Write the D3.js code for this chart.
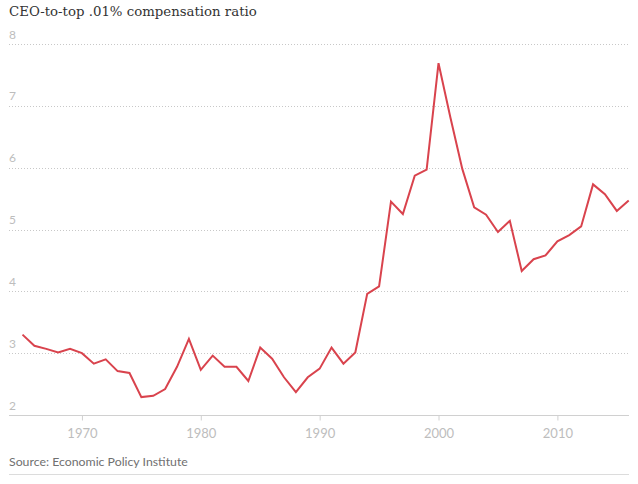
<!DOCTYPE html>
<html>
<head>
<meta charset="utf-8">
<script src="https://cdn.jsdelivr.net/npm/d3@7"></script>
<style>
  html, body { margin: 0; padding: 0; background: #fff; }
  svg { display: block; }
</style>
</head>
<body>
<svg id="chart" width="638" height="484"></svg>
<script>
const title = "CEO-to-top .01% compensation ratio";
const source = "Source: Economic Policy Institute";
const years = [1965,1966,1967,1968,1969,1970,1971,1972,1973,1974,1975,1976,1977,1978,1979,1980,1981,1982,1983,1984,1985,1986,1987,1988,1989,1990,1991,1992,1993,1994,1995,1996,1997,1998,1999,2000,2001,2002,2003,2004,2005,2006,2007,2008,2009,2010,2011,2012,2013,2014,2015,2016];
const ratio = [3.30,3.12,3.07,3.01,3.07,3.00,2.83,2.90,2.71,2.68,2.29,2.31,2.42,2.78,3.23,2.73,2.96,2.78,2.78,2.55,3.09,2.91,2.61,2.37,2.61,2.75,3.09,2.83,3.01,3.96,4.08,5.45,5.25,5.87,5.97,7.69,6.81,5.98,5.36,5.24,4.96,5.14,4.33,4.52,4.58,4.81,4.91,5.05,5.73,5.57,5.30,5.47];
const yTicks = [2,3,4,5,6,7,8];
const xTicks = [1970,1980,1990,2000,2010];

const svg = d3.select("#chart");
const left = 9, right = 629;
const x = d3.scaleLinear().domain([1965, 2016]).range([22.5, 628.7]);
const y = d3.scaleLinear().domain([2, 8]).range([415, 44]);

const sans = "Lato, 'Open Sans', sans-serif";

svg.append("text")
  .attr("x", 9).attr("y", 16)
  .attr("font-family", "'DejaVu Serif', 'Liberation Serif', serif")
  .attr("font-size", 13.3)
  .attr("fill", "#333")
  .text(title);

// gridlines
const grid = svg.append("g");
grid.selectAll("line").data(yTicks.filter(d => d > 2)).join("line")
  .attr("x1", left).attr("x2", right)
  .attr("y1", d => Math.round(y(d)) + 0.5).attr("y2", d => Math.round(y(d)) + 0.5)
  .attr("stroke", "#c8c8c8").attr("stroke-width", 1)
  .attr("stroke-dasharray", "1,2");

grid.selectAll("text").data(yTicks).join("text")
  .attr("x", 9).attr("y", d => y(d) - 5.5)
  .attr("font-family", sans).attr("font-size", 12)
  .attr("fill", "#bdbdbd")
  .text(d => d);

// x axis
const xAxis = d3.axisBottom(x).tickValues(xTicks).tickSize(5).tickFormat(d3.format("d"));
const gx = svg.append("g").attr("transform", "translate(0,415.5)").call(xAxis);
gx.select(".domain").remove();
gx.selectAll(".tick line").attr("stroke", "#d0d0d0");
gx.selectAll(".tick text")
  .attr("font-family", sans).attr("font-size", 13)
  .attr("fill", "#bdbdbd").attr("dy", "1.05em").attr("y", 9);
svg.append("line")
  .attr("x1", left).attr("x2", right).attr("y1", 415.5).attr("y2", 415.5)
  .attr("stroke", "#d0d0d0").attr("stroke-width", 1);

// line
const line = d3.line().x((d, i) => x(years[i])).y(d => y(d));
svg.append("path")
  .datum(ratio)
  .attr("d", line)
  .attr("fill", "none")
  .attr("stroke", "#d9434d")
  .attr("stroke-width", 2)
  .attr("stroke-linejoin", "miter");

// source
svg.append("text")
  .attr("x", 9).attr("y", 466)
  .attr("font-family", sans).attr("font-size", 12.3)
  .attr("fill", "#707070")
  .text(source);
svg.append("line")
  .attr("x1", left).attr("x2", right).attr("y1", 474.5).attr("y2", 474.5)
  .attr("stroke", "#dcdcdc").attr("stroke-width", 1);
</script>
</body>
</html>
